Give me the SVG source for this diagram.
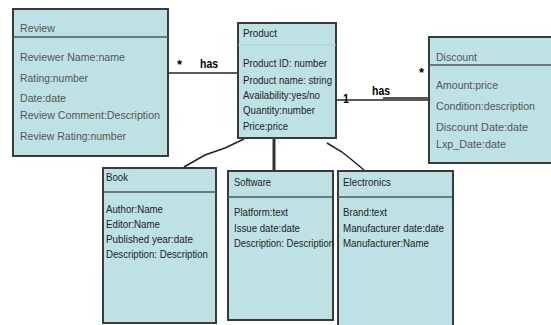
<svg xmlns="http://www.w3.org/2000/svg" width="551" height="325" viewBox="0 0 551 325">
<style>
.box{fill:#bde1e4;stroke:#3a3a3a;stroke-width:2}
.div{stroke:#555;stroke-width:1.5}
.t{font-family:"Liberation Sans",Arial,sans-serif;font-size:10.5px;fill:#222}
.lt{fill:#555}
.lbl{font-family:"Liberation Sans",Arial,sans-serif;font-size:13px;font-weight:bold;fill:#000}
.c{stroke:#222;fill:none;stroke-width:1.5}
</style>
<rect width="551" height="325" fill="#fff"/>
<g id="connectors">
<line class="c" x1="168" y1="73" x2="238" y2="73"/>
<line class="c" x1="336" y1="100" x2="429" y2="100"/>
<line x1="383" y1="98" x2="429" y2="98" stroke="#555" stroke-width="2"/>
<polyline class="c" stroke-width="2" points="244,139 225,148 205,155 184,167"/>
<line x1="274" y1="139" x2="274" y2="171" stroke="#333" stroke-width="3"/>
<polyline class="c" stroke-width="2" points="327,143 342,152 352,160 364,170"/>
<text class="lbl" x="177" y="69">*</text>
<text class="lbl" x="200" y="68" textLength="18" lengthAdjust="spacingAndGlyphs">has</text>
<text class="lbl" x="343" y="103" textLength="6" lengthAdjust="spacingAndGlyphs">1</text>
<text class="lbl" x="372" y="95" textLength="18" lengthAdjust="spacingAndGlyphs">has</text>
<text class="lbl" x="419" y="77">*</text>
</g>
<g id="review">
<rect class="box" x="13" y="9" width="155" height="147"/>
<line class="div" x1="13" y1="37" x2="168" y2="37"/>
<text class="t lt" x="20" y="32" textLength="35" lengthAdjust="spacingAndGlyphs">Review</text>
<text class="t lt" x="20" y="61" textLength="105" lengthAdjust="spacingAndGlyphs">Reviewer Name:name</text>
<text class="t lt" x="20" y="82" textLength="68" lengthAdjust="spacingAndGlyphs">Rating:number</text>
<text class="t lt" x="20" y="102" textLength="46" lengthAdjust="spacingAndGlyphs">Date:date</text>
<text class="t lt" x="20" y="119" textLength="140" lengthAdjust="spacingAndGlyphs">Review Comment:Description</text>
<text class="t lt" x="20" y="140" textLength="106" lengthAdjust="spacingAndGlyphs">Review Rating:number</text>
</g>
<g id="product">
<rect class="box" x="238" y="23" width="98" height="115" stroke="#555"/>
<line x1="238" y1="45" x2="336" y2="45" stroke="#a6cfd3" stroke-width="1"/>
<text class="t" x="243" y="37" textLength="34" lengthAdjust="spacingAndGlyphs">Product</text>
<text class="t" x="243" y="67" textLength="84" lengthAdjust="spacingAndGlyphs">Product ID: number</text>
<text class="t" x="243" y="84" textLength="89" lengthAdjust="spacingAndGlyphs">Product name: string</text>
<text class="t" x="243" y="99" textLength="77" lengthAdjust="spacingAndGlyphs">Availability:yes/no</text>
<text class="t" x="243" y="114" textLength="72" lengthAdjust="spacingAndGlyphs">Quantity:number</text>
<text class="t" x="243" y="130" textLength="45" lengthAdjust="spacingAndGlyphs">Price:price</text>
</g>
<g id="discount">
<rect class="box" x="429" y="37" width="124" height="126"/>
<line class="div" x1="429" y1="65" x2="551" y2="65"/>
<text class="t lt" x="436" y="61" textLength="41" lengthAdjust="spacingAndGlyphs">Discount</text>
<text class="t lt" x="436" y="89" textLength="62" lengthAdjust="spacingAndGlyphs">Amount:price</text>
<text class="t lt" x="436" y="110" textLength="99" lengthAdjust="spacingAndGlyphs">Condition:description</text>
<text class="t lt" x="436" y="131" textLength="92" lengthAdjust="spacingAndGlyphs">Discount Date:date</text>
<text class="t lt" x="436" y="148" textLength="70" lengthAdjust="spacingAndGlyphs">Lxp_Date:date</text>
</g>
<g id="book">
<rect class="box" x="103" y="168" width="113" height="155" stroke="#555"/>
<line class="div" x1="103" y1="192" x2="216" y2="192"/>
<text class="t" x="106" y="181" textLength="22" lengthAdjust="spacingAndGlyphs">Book</text>
<text class="t" x="106" y="213" textLength="57" lengthAdjust="spacingAndGlyphs">Author:Name</text>
<text class="t" x="106" y="228" textLength="54" lengthAdjust="spacingAndGlyphs">Editor:Name</text>
<text class="t" x="106" y="243" textLength="87" lengthAdjust="spacingAndGlyphs">Published year:date</text>
<text class="t" x="106" y="258" textLength="102" lengthAdjust="spacingAndGlyphs">Description: Description</text>
</g>
<g id="software">
<rect class="box" x="228" y="171" width="105" height="149" stroke="#555"/>
<line class="div" x1="228" y1="197" x2="333" y2="197" stroke="#777"/>
<text class="t" x="234" y="186" textLength="37" lengthAdjust="spacingAndGlyphs">Software</text>
<text class="t" x="234" y="216" textLength="54" lengthAdjust="spacingAndGlyphs">Platform:text</text>
<text class="t" x="234" y="232" textLength="66" lengthAdjust="spacingAndGlyphs">Issue date:date</text>
<text class="t" x="234" y="247" textLength="100" lengthAdjust="spacingAndGlyphs">Description: Description</text>
</g>
<g id="electronics">
<rect class="box" x="338" y="171" width="115" height="156" stroke="#777"/>
<line class="div" x1="338" y1="197" x2="453" y2="197" stroke="#777"/>
<text class="t" x="343" y="186" textLength="48" lengthAdjust="spacingAndGlyphs">Electronics</text>
<text class="t" x="343" y="216" textLength="44" lengthAdjust="spacingAndGlyphs">Brand:text</text>
<text class="t" x="343" y="232" textLength="101" lengthAdjust="spacingAndGlyphs">Manufacturer date:date</text>
<text class="t" x="343" y="247" textLength="86" lengthAdjust="spacingAndGlyphs">Manufacturer:Name</text>
</g>
</svg>
